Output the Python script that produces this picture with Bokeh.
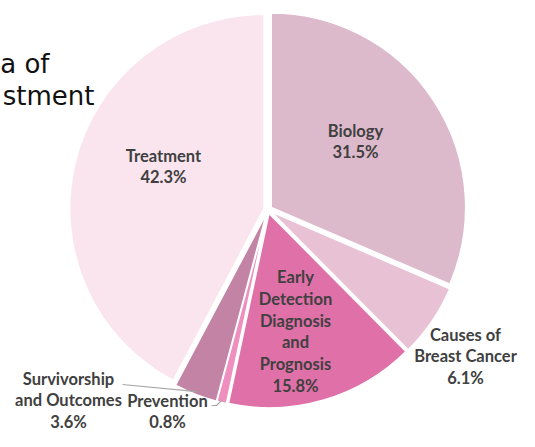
import math
from bokeh.plotting import figure
from bokeh.models import ColumnDataSource, Range1d
from bokeh.core.properties import value
from bokeh.embed import file_html
from bokeh.resources import INLINE

# ---------------- data ----------------
categories = ["Biology", "Causes of\nBreast Cancer",
              "Early\nDetection\nDiagnosis\nand\nPrognosis",
              "Prevention", "Survivorship\nand Outcomes", "Treatment"]
values = [31.5, 6.1, 15.8, 0.8, 3.6, 42.3]
colors = ["#DDB9CC", "#E9C1D5", "#E070A8", "#EE8FC0", "#C283A4", "#FAE5EF"]
title_lines = ["a of", "stment"]   # the visible part of the title

# ---------------- layout (picture pixel coordinates) ----------------
W, H = 519, 431


def Y(py):
    return H - py


CX, CY, R, EXPLODE = 267.4, Y(209.1), 194.4, 4.0
label_pos = [(355, 141), (465, 356), (295, 331), (167, 411), (68, 400), (163, 166)]

p = figure(width=W, height=H, output_backend="svg", toolbar_location=None,
           x_range=Range1d(0, W), y_range=Range1d(0, H),
           min_border=0, outline_line_color=None)
p.axis.visible = False
p.grid.visible = False
p.background_fill_color = "white"
p.border_fill_color = "white"

total = sum(values)
starts, ends, xs, ys, mids = [], [], [], [], []
cum = 0.0
for v in values:
    a0 = math.pi / 2 - 2 * math.pi * cum / total
    cum += v
    a1 = math.pi / 2 - 2 * math.pi * cum / total
    m = (a0 + a1) / 2
    starts.append(a0)
    ends.append(a1)
    mids.append(m)
    xs.append(CX + EXPLODE * math.cos(m))
    ys.append(CY + EXPLODE * math.sin(m))

src = ColumnDataSource(dict(x=xs, y=ys, start=starts, end=ends, color=colors))
p.wedge(x="x", y="y", radius=R, start_angle="start", end_angle="end",
        direction="clock", fill_color="color", line_color="white",
        line_width=1.5, source=src)


# leader lines for the two small slices
def edge(i, rr):
    return (xs[i] + rr * math.cos(mids[i]), ys[i] + rr * math.sin(mids[i]))


ex, ey = edge(4, R - 3)
p.line([122, ex], [Y(384), ey], line_color="#A6A6A6", line_width=1.2)
ex, ey = edge(3, R - 3)
p.line([211, 216, ex], [Y(405), Y(405), ey], line_color="#A6A6A6", line_width=1.2)

# data labels
labels = [f"{c}\n{v:.1f}%" for c, v in zip(categories, values)]
lsrc = ColumnDataSource(dict(x=[q[0] for q in label_pos],
                             y=[Y(q[1]) for q in label_pos], text=labels))
p.text(x="x", y="y", text="text", source=lsrc, text_align="center",
       text_baseline="middle", text_font=value("Lato"), text_font_style="bold",
       text_font_size="16.5px", text_color="#404040", text_line_height=1.09)

# title (only its visible end, as in the reference)
p.text(x=[49, 94], y=[Y(63), Y(95)], text=title_lines, text_align="right",
       text_baseline="alphabetic", text_font=value("DejaVu Sans"),
       text_font_size="26px", text_color="#111111")

open("out.html", "w").write(file_html(p, INLINE))
